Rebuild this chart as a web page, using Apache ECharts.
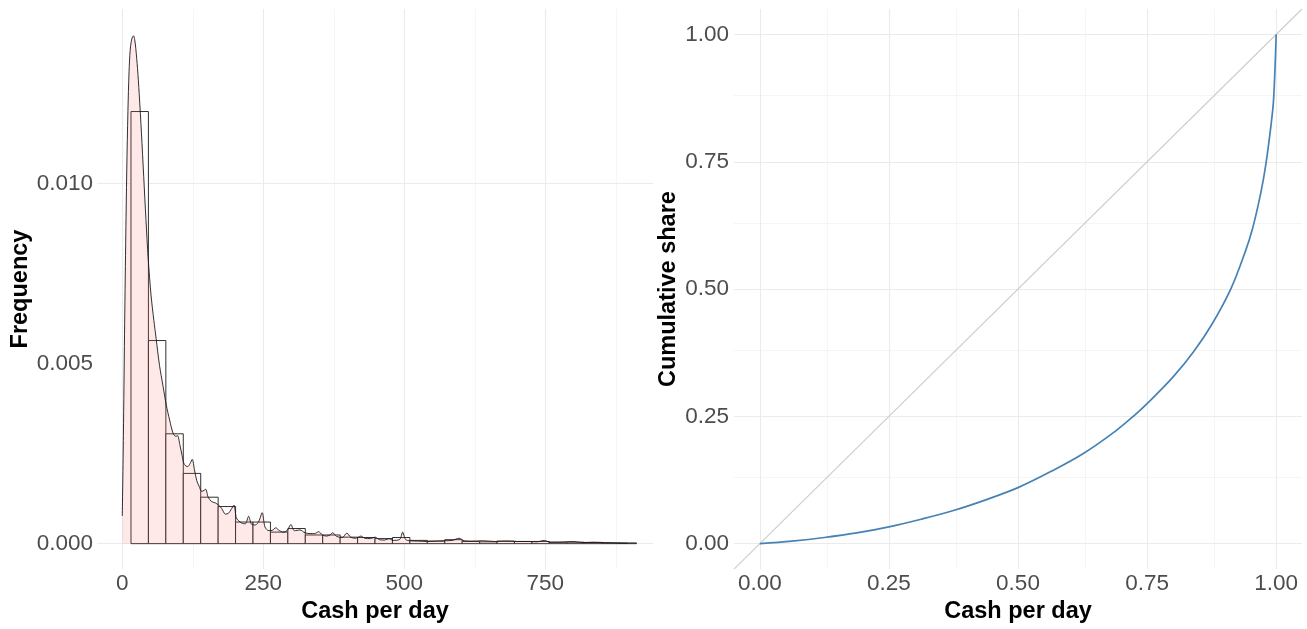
<!DOCTYPE html>
<html>
<head>
<meta charset="utf-8">
<script src="https://cdn.jsdelivr.net/npm/echarts@6/dist/echarts.min.js"></script>
<style>
html,body{margin:0;padding:0;background:#fff;}
#chart{width:1307px;height:629px;}
</style>
</head>
<body>
<div id="chart"></div>
<script>
// ---------- Left panel: histogram (density scale) + kernel density ----------
const binWidth = 30.9;
const binCenters = [30.9, 61.8, 92.7, 123.6, 154.5, 185.4, 216.3, 247.2, 278.1, 309,
  339.9, 370.8, 401.7, 432.6, 463.5, 494.4, 525.3, 556.2, 587.1, 618,
  648.9, 679.8, 710.7, 741.6, 772.5, 803.4, 834.3, 865.2, 896.1];
const binDensity = [0.0120, 0.00564, 0.00305, 0.00195, 0.00129, 0.00103, 0.0006, 0.0006, 0.00032, 0.00042,
  0.00024, 0.00024, 0.00018, 0.00017, 0.00014, 0.00017, 0.00009, 0.00007, 0.00011, 0.00006,
  0.00005, 0.00007, 0.00006, 0.00006, 0.00004, 0.00004, 0.00003, 0.00002, 0.00002];

const densX = [0,2,4,6,8,10,12,14,16,18,20,22,24,27,30,34,38,42,46,51,
  56,60,66,72,78,84,90,95,98,102,106,110,116,120,124,128,132,136,141,145,
  148,152,158,165,170,176,183,188,193,198,202,206,212,218,224,229,236,242,248,253,
  260,266,272,277,285,292,299,305,315,324,333,341,348,355,362,368,373,380,390,398,
  405,413,423,430,440,448,456,465,473,480,492,497,502,510,525,540,555,570,585,597,
  606,620,640,660,680,700,720,735,748,758,775,800,815,835,855,875,896];
const densY = [0.00077,0.0030,0.0058,0.0083,0.0104,0.0120,0.0131,0.0137,0.01395,0.01407,
  0.0141,0.0140,0.01375,0.0132,0.0125,0.0114,0.0102,0.0090,0.0079,0.0069,
  0.0062,0.0057,0.00495,0.0044,0.00385,0.00343,0.00307,0.00298,0.0030,0.00275,
  0.00245,0.0022,0.00214,0.00222,0.00234,0.00205,0.00175,0.0016,0.00145,0.00148,
  0.00151,0.0013,0.00117,0.00113,0.00108,0.00098,0.00082,0.00084,0.00095,0.00107,
  0.00072,0.00064,0.00057,0.00055,0.00076,0.00054,0.00052,0.00062,0.00086,0.00046,
  0.00036,0.00037,0.00044,0.00038,0.00032,0.00036,0.00053,0.00036,0.00038,0.0003,
  0.00028,0.00028,0.00033,0.00024,0.00021,0.00024,0.0003,0.0002,0.00017,0.00029,
  0.00018,0.00015,0.00021,0.00015,0.00014,0.00018,0.00011,0.0001,0.00014,0.00009,
  0.00012,0.00032,0.00012,0.00008,0.00007,0.00006,0.00007,0.00008,0.00009,0.00015,
  0.00008,0.00007,0.00008,0.00006,0.00007,0.00006,0.00006,0.00005,0.00009,0.00004,
  0.00004,0.00006,0.00003,0.00004,0.00003,0.00002,0.00001];

const leftXTicks = [0, 250, 500, 750];
const leftXMinor = [125, 375, 625, 875];
const leftYTicks = [0, 0.005, 0.010];
const leftYMinor = [0.0025, 0.0075, 0.0125];

// ---------- Right panel: Lorenz curve ----------
const lorenzX = [0, 0.0625, 0.125, 0.1875, 0.25, 0.3125, 0.375, 0.4375, 0.5, 0.5625,
  0.625, 0.6875, 0.7255, 0.75, 0.8, 0.84, 0.875, 0.912, 0.94, 0.954,
  0.97, 0.98, 0.99, 0.995, 1];
const lorenzY = [0, 0.005, 0.012, 0.021, 0.033, 0.048, 0.065, 0.086, 0.110, 0.141,
  0.176, 0.220, 0.252, 0.275, 0.327, 0.377, 0.430, 0.5, 0.573, 0.618,
  0.688, 0.745, 0.822, 0.873, 1];
const equalityLine = [[-0.05, -0.05], [1.05, 1.05]];
const rightTicks = [0, 0.25, 0.5, 0.75, 1];
const rightMinor = [0.125, 0.375, 0.625, 0.875];

// ---------- build ----------
const FONT = 'Liberation Sans';
const histData = binCenters.map((c, i) => [c - binWidth / 2, c + binWidth / 2, binDensity[i]]);
const densData = densX.map((x, i) => [x, densY[i]]);
const lorenzData = lorenzX.map((x, i) => [x, lorenzY[i]]);

const majorStyle = {color: '#EBEBEB', width: 1.1, type: 'solid'};
const minorStyle = {color: '#F3F3F3', width: 0.8, type: 'solid'};
function gridLines(xMaj, xMin, yMaj, yMin) {
  const d = [];
  xMin.forEach(v => d.push({xAxis: v, lineStyle: minorStyle}));
  yMin.forEach(v => d.push({yAxis: v, lineStyle: minorStyle}));
  xMaj.forEach(v => d.push({xAxis: v, lineStyle: majorStyle}));
  yMaj.forEach(v => d.push({yAxis: v, lineStyle: majorStyle}));
  return d;
}
function gridSeries(idx, d) {
  return {
    type: 'line', xAxisIndex: idx, yAxisIndex: idx, data: [], silent: true, z: 0,
    markLine: {silent: true, z: 0, symbol: ['none', 'none'], label: {show: false}, animation: false,
      emphasis: {disabled: true}, data: d}
  };
}

const labelStyle = {color: '#4D4D4D', fontSize: 22.5, fontFamily: FONT};
const nameStyle = {color: '#000', fontSize: 23.5, fontWeight: 'bold', fontFamily: FONT};

const chart = echarts.init(document.getElementById('chart'), null, {renderer: 'canvas'});
chart.setOption({
  animation: false,
  backgroundColor: '#ffffff',
  grid: [
    {left: 97, top: 9, width: 556, height: 563},
    {left: 734, top: 9, width: 568, height: 563}
  ],
  xAxis: [
    {type: 'value', gridIndex: 0, min: -44.8, max: 940.8,
      axisLine: {show: false}, axisTick: {show: false}, splitLine: {show: false},
      axisLabel: Object.assign({customValues: leftXTicks, margin: 3, formatter: v => String(v)}, labelStyle),
      name: 'Cash per day', nameLocation: 'middle', nameGap: 22, nameTextStyle: nameStyle},
    {type: 'value', gridIndex: 1, min: -0.05, max: 1.05,
      axisLine: {show: false}, axisTick: {show: false}, splitLine: {show: false},
      axisLabel: Object.assign({customValues: rightTicks, margin: 3, formatter: v => v.toFixed(2)}, labelStyle),
      name: 'Cash per day', nameLocation: 'middle', nameGap: 22, nameTextStyle: nameStyle}
  ],
  yAxis: [
    {type: 'value', gridIndex: 0, min: -0.000707, max: 0.014847,
      axisLine: {show: false}, axisTick: {show: false}, splitLine: {show: false},
      axisLabel: Object.assign({customValues: leftYTicks, margin: 4, formatter: v => v.toFixed(3)}, labelStyle),
      name: 'Frequency', nameLocation: 'middle', nameGap: 60, nameTextStyle: nameStyle},
    {type: 'value', gridIndex: 1, min: -0.05, max: 1.05,
      axisLine: {show: false}, axisTick: {show: false}, splitLine: {show: false},
      axisLabel: Object.assign({customValues: rightTicks, margin: 5, formatter: v => v.toFixed(2)}, labelStyle),
      name: 'Cumulative share', nameLocation: 'middle', nameGap: 53, nameTextStyle: nameStyle}
  ],
  series: [
    gridSeries(0, gridLines(leftXTicks, leftXMinor, leftYTicks, leftYMinor)),
    gridSeries(1, gridLines(rightTicks, rightMinor, rightTicks, rightMinor)),
    {
      type: 'custom', xAxisIndex: 0, yAxisIndex: 0, z: 2, silent: true,
      data: histData,
      encode: {x: [0, 1], y: 2},
      renderItem: function (params, api) {
        const p0 = api.coord([api.value(0), api.value(2)]);
        const p1 = api.coord([api.value(1), 0]);
        return {
          type: 'rect',
          shape: {x: p0[0], y: p0[1], width: p1[0] - p0[0], height: p1[1] - p0[1]},
          style: {fill: '#ffffff', stroke: '#1a1a1a', lineWidth: 0.9}
        };
      }
    },
    {
      type: 'line', xAxisIndex: 0, yAxisIndex: 0, z: 3, silent: true,
      data: densData, smooth: 0.3, symbol: 'none',
      lineStyle: {color: '#1a1a1a', width: 0.9},
      areaStyle: {color: 'rgba(255,102,102,0.22)'}
    },
    {
      type: 'line', xAxisIndex: 1, yAxisIndex: 1, z: 3, silent: true,
      data: equalityLine, symbol: 'none',
      lineStyle: {color: '#CCCCCC', width: 1.1}
    },
    {
      type: 'line', xAxisIndex: 1, yAxisIndex: 1, z: 4, silent: true,
      data: lorenzData, smooth: 0.35, symbol: 'none',
      lineStyle: {color: '#4682B4', width: 1.7}
    }
  ]
});
</script>
</body>
</html>
